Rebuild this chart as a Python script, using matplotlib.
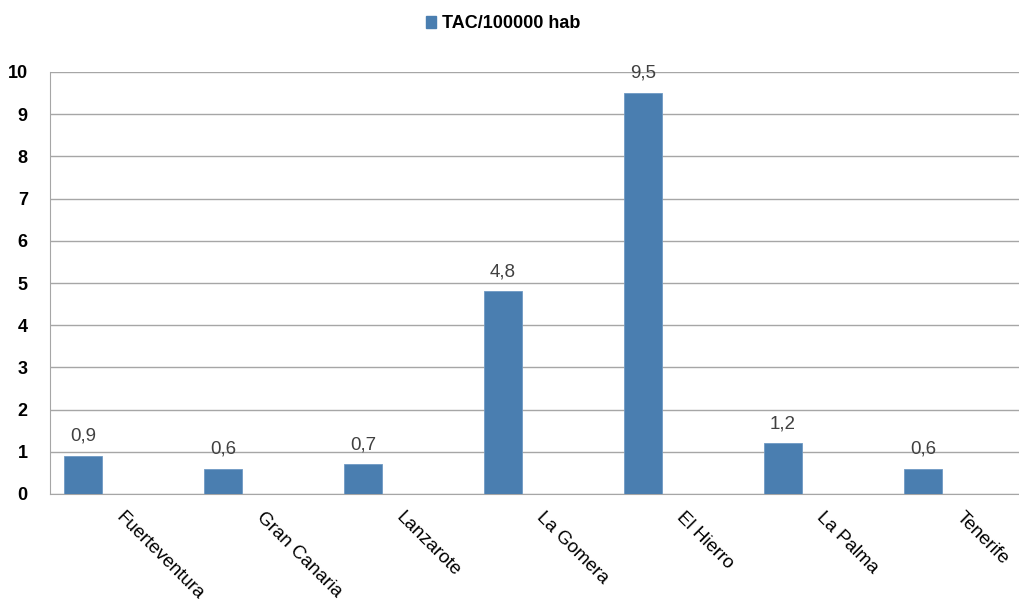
import matplotlib
matplotlib.use("Agg")
import matplotlib.pyplot as plt
from matplotlib.patches import Patch

plt.rcParams['font.family'] = ['Liberation Sans', 'DejaVu Sans']

# data
islands = ["Fuerteventura", "Gran Canaria", "Lanzarote", "La Gomera",
           "El Hierro", "La Palma", "Tenerife"]
tac_values = [0.9, 0.6, 0.7, 4.8, 9.5, 1.2, 0.6]
series_name = "TAC/100000 hab"
y_ticks = list(range(0, 11))

bar_color = "#4a7eb0"
grid_color = "#a6a6a6"

fig = plt.figure(figsize=(10.2, 5.99), dpi=100)
# plot area runs past the right edge like the original screenshot
ax = fig.add_axes([50 / 1020, 105 / 599, 980 / 1020, 422 / 599])

n = len(islands)
bar_pos = [i + 0.236 for i in range(n)]
ax.bar(bar_pos, tac_values, width=0.271, color=bar_color,
       edgecolor="#6f9ac4", linewidth=0.6, zorder=3)

for x, v in zip(bar_pos, tac_values):
    ax.annotate(f"{v:.1f}".replace(".", ","), (x, v), xytext=(0, 8),
                textcoords="offset points", ha="center", va="bottom",
                fontsize=13.5, color="#404040", zorder=4)

ax.set_xlim(0, n)
ax.set_ylim(0, 10)
ax.set_yticks(y_ticks)
ax.set_yticklabels([str(t) for t in y_ticks], fontsize=13, fontweight="bold")
ax.tick_params(axis="y", length=0, pad=16)
ax.yaxis.grid(True, color=grid_color, linewidth=1.0, zorder=0)

ax.set_xticks([i + 0.5 for i in range(n)])
ax.set_xticklabels([])
ax.tick_params(axis="x", length=0)
for i, name in enumerate(islands):
    ax.text(i + 0.535, -0.36, name, rotation=-45, rotation_mode="anchor",
            ha="left", va="top", fontsize=13.5, color="black")

for side in ["top", "right"]:
    ax.spines[side].set_visible(False)
ax.spines["left"].set_color(grid_color)
ax.spines["bottom"].set_color(grid_color)

handle = Patch(facecolor=bar_color, edgecolor=bar_color)
fig.legend([handle], [series_name], loc="center", bbox_to_anchor=(0.493, 0.96),
           frameon=False, prop={"size": 13, "weight": "bold"},
           handlelength=0.6, handleheight=0.6, handletextpad=0.3)

fig.savefig("out.png", dpi=100)
